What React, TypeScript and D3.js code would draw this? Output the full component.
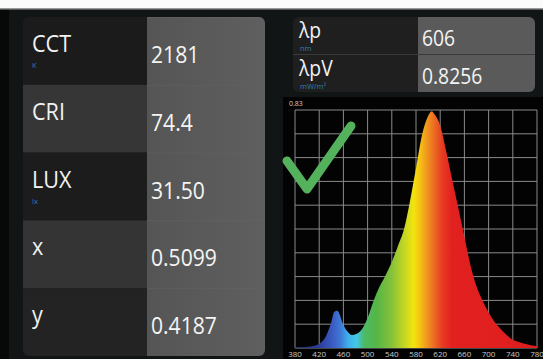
import React from "react";
import * as d3 from "d3";

// ---- data ----
const metricLabels = ["CCT", "CRI", "LUX", "x", "y"];
const metricUnits = ["K", "", "lx", "", ""];
const metricValues = ["2181", "74.4", "31.50", "0.5099", "0.4187"];

const peakLabels = ["λp", "λpV"];
const peakUnits = ["nm", "mW/m²"];
const peakValues = ["606", "0.8256"];

const yMaxLabel = "0.83";
const xTicks = [380, 420, 460, 500, 540, 580, 620, 660, 700, 740, 780];

const wavelengths = [
  380, 390, 400, 410, 420, 430, 440, 445, 450, 460, 470, 475, 480, 490, 500, 510, 520, 530, 540, 550, 560, 570,
  580, 590, 600, 606, 610, 620, 630, 640, 650, 660, 670, 680, 690, 700, 710, 720, 730, 740, 750, 760, 770, 780,
];
const intensities = [
  0.0025, 0.003, 0.004, 0.007, 0.015, 0.037, 0.09, 0.126, 0.13, 0.08, 0.05, 0.045, 0.048, 0.064, 0.105, 0.165,
  0.215, 0.255, 0.3, 0.355, 0.413, 0.512, 0.627, 0.743, 0.809, 0.8256, 0.817, 0.776, 0.685, 0.586, 0.487, 0.388,
  0.289, 0.215, 0.165, 0.124, 0.091, 0.066, 0.045, 0.029, 0.021, 0.015, 0.01, 0.007,
];

const spectrumStops: [number, string][] = [
  [380, "#1e2a70"],
  [420, "#2c3e9c"],
  [440, "#3a58c0"],
  [455, "#3f78d6"],
  [468, "#3fb0ea"],
  [482, "#44c8e6"],
  [494, "#4cba66"],
  [515, "#55b646"],
  [540, "#86c23a"],
  [560, "#c2d624"],
  [576, "#f2e40e"],
  [586, "#f6c412"],
  [597, "#f09a1e"],
  [610, "#ec6c22"],
  [624, "#e63a22"],
  [640, "#e22020"],
  [780, "#de1e1e"],
];

const W = 543;
const H = 359;

export default function App() {
  const font = "'Open Sans', 'Noto Sans', sans-serif";

  // left panel
  const L = { x0: 23, x1: 147, x2: 265, y0: 17, y1: 356 };
  const rowBand = d3.scaleBand<string>().domain(metricLabels).range([L.y0, L.y1]);
  const rowFills = ["#1b1b1b", "#363636", "#1c1c1c", "#343434", "#232323"];

  // right panel
  const R = { x0: 293, x1: 418, x2: 535, y0: 17, y1: 92 };
  const pBand = d3.scaleBand<string>().domain(peakLabels).range([R.y0, R.y1]);

  // chart
  const C = { x0: 295, x1: 537, y0: 110, y1: 348 };
  const x = d3.scaleLinear().domain([380, 780]).range([C.x0, C.x1]);
  const y = d3.scaleLinear().domain([0, 0.83]).range([C.y1, C.y0]);
  const pts = wavelengths.map((w, i) => [w, intensities[i]] as [number, number]);
  const area = d3
    .area<[number, number]>()
    .x((d) => x(d[0]))
    .y0(y(0))
    .y1((d) => y(d[1]))
    .curve(d3.curveMonotoneX);
  const yGrid = d3.range(0, 11).map((i) => (0.83 * i) / 10);

  return (
    <svg
      width={W}
      height={H}
      style={{ position: "absolute", left: 0, top: 0, display: "block" }}
      fontFamily={font}
    >
      <defs>
        <clipPath id="lclip">
          <rect x={L.x0} y={L.y0} width={L.x2 - L.x0} height={L.y1 - L.y0} rx={6} />
        </clipPath>
        <clipPath id="rclip">
          <rect x={R.x0} y={R.y0} width={R.x2 - R.x0} height={R.y1 - R.y0} rx={6} />
        </clipPath>
        <linearGradient id="valgrad" x1="0" x2="1" y1="0" y2="0">
          <stop offset="0" stopColor="#555555" />
          <stop offset="1" stopColor="#5f5f5f" />
        </linearGradient>
        <linearGradient id="spec" gradientUnits="userSpaceOnUse" x1={x(380)} x2={x(780)} y1={0} y2={0}>
          {spectrumStops.map(([w, c]) => (
            <stop key={w} offset={(w - 380) / 400} stopColor={c} />
          ))}
        </linearGradient>
      </defs>

      {/* background */}
      <rect x={0} y={0} width={W} height={H} fill="#121515" />
      <rect x={0} y={0} width={9} height={H} fill="#070808" />
      <rect x={0} y={0} width={W} height={8} fill="#fbfbfb" />
      <rect x={0} y={8} width={W} height={1.5} fill="#9a9a9a" />

      {/* left panel */}
      <g clipPath="url(#lclip)">
        {metricLabels.map((m, i) => (
          <rect
            key={m}
            x={L.x0}
            y={rowBand(m)!}
            width={L.x1 - L.x0}
            height={rowBand.bandwidth()}
            fill={rowFills[i]}
          />
        ))}
        <rect x={L.x1} y={L.y0} width={L.x2 - L.x1} height={L.y1 - L.y0} fill="url(#valgrad)" />
        {metricLabels.map((m) => (
          <line
            key={m}
            x1={L.x1}
            x2={L.x2}
            y1={rowBand(m)! + 0.5}
            y2={rowBand(m)! + 0.5}
            stroke="#666"
            strokeOpacity={0.5}
          />
        ))}
      </g>
      {metricLabels.map((m, i) => {
        const top = rowBand(m)!;
        return (
          <g key={m}>
            <text
              transform={`translate(32,${top + 35}) scale(0.9,1)`}
              fontSize={24}
              fill="#f2f2f2"
            >
              {m}
            </text>
            {metricUnits[i] && (
              <text x={32} y={top + 51} fontSize={7.5} fill="#2b7fb4">
                {metricUnits[i]}
              </text>
            )}
            <text
              transform={`translate(151,${top + 46}) scale(0.88,1)`}
              fontSize={24}
              fill="#f4f4f4"
            >
              {metricValues[i]}
            </text>
          </g>
        );
      })}

      {/* right panel */}
      <g clipPath="url(#rclip)">
        <rect x={R.x0} y={R.y0} width={R.x1 - R.x0} height={R.y1 - R.y0} fill="#1f1f1f" />
        <rect x={R.x1} y={R.y0} width={R.x2 - R.x1} height={R.y1 - R.y0} fill="#5a5a5a" />
        <line x1={R.x0} x2={R.x2} y1={pBand(peakLabels[1])!} y2={pBand(peakLabels[1])!} stroke="#3a3a3a" />
      </g>
      {peakLabels.map((p, i) => {
        const top = pBand(p)!;
        return (
          <g key={p}>
            <text transform={`translate(299,${top + 21}) scale(0.92,1)`} fontSize={21} fill="#f2f2f2">
              {p}
            </text>
            <text x={300} y={top + 34} fontSize={7.5} fill="#2b7fb4">
              {peakUnits[i]}
            </text>
            <text transform={`translate(422,${top + 29}) scale(0.92,1)`} fontSize={21} fill="#f4f4f4">
              {peakValues[i]}
            </text>
          </g>
        );
      })}

      {/* chart */}
      <rect x={283} y={97} width={W - 283} height={H - 97} fill="#030303" />
      <text x={289} y={106} fontSize={7} fill="#d0d0d0">
        {yMaxLabel}
      </text>
      <g stroke="#8a8a8a" strokeWidth={1}>
        {xTicks.map((t) => (
          <line key={t} x1={x(t)} x2={x(t)} y1={C.y0} y2={C.y1} />
        ))}
        {yGrid.map((v, i) => (
          <line key={i} x1={C.x0} x2={C.x1} y1={y(v)} y2={y(v)} />
        ))}
      </g>
      <path d={area(pts) || ""} fill="url(#spec)" />
      {xTicks.map((t) => (
        <text key={t} x={x(t)} y={357} fontSize={8} fill="#c8c8c8" textAnchor="middle">
          {t}
        </text>
      ))}

      {/* check mark */}
      <path
        d="M287,161 L307,189 L351,126"
        fill="none"
        stroke="#55b25c"
        strokeWidth={9}
        strokeLinecap="round"
        strokeLinejoin="round"
      />
    </svg>
  );
}
